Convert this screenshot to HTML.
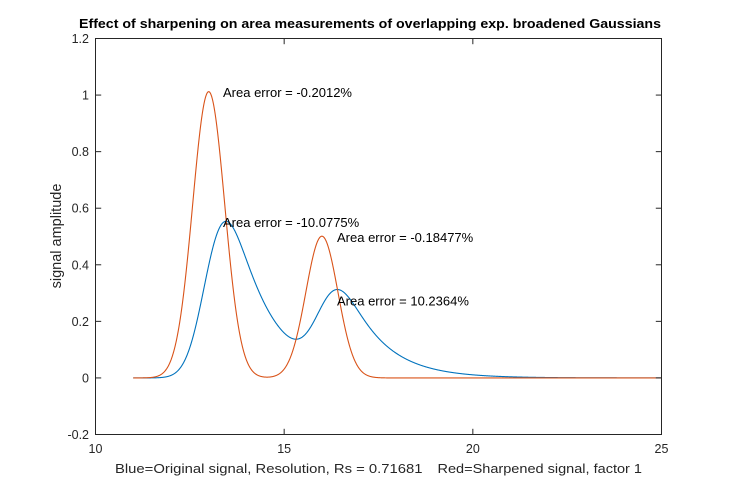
<!DOCTYPE html>
<html>
<head>
<meta charset="utf-8">
<style>
html,body{margin:0;padding:0;background:#fff;}
svg{display:block;}
text{font-family:"Liberation Sans", Arial, sans-serif;}
.tk{font-size:12.5px;fill:#262626;}
.an{font-size:13px;fill:#000;}
</style>
</head>
<body>
<svg id="s" width="731" height="489" viewBox="0 0 731 489" xmlns="http://www.w3.org/2000/svg">
<rect width="731" height="489" fill="#fff"/>
<path id="blue" fill="none" stroke="#0072BD" stroke-width="1.1" stroke-linejoin="round"/>
<path id="red" fill="none" stroke="#D95319" stroke-width="1.1" stroke-linejoin="round"/>
<g id="axes" stroke="#262626" stroke-width="1" fill="none">
  <rect x="95.5" y="38.5" width="566" height="396"/>
</g>
<g id="ticks" stroke="#262626" stroke-width="1"></g>
<g id="labels"></g>

<text x="79" y="28" font-size="12.5" font-weight="bold" fill="#000" textLength="582" lengthAdjust="spacingAndGlyphs">Effect of sharpening on area measurements of overlapping exp. broadened Gaussians</text>

<text class="an" x="223" y="97">Area error = -0.2012%</text>
<text class="an" x="223" y="227">Area error = -10.0775%</text>
<text class="an" x="337" y="242">Area error = -0.18477%</text>
<text class="an" x="337" y="305.5">Area error = 10.2364%</text>

<text x="115" y="473" font-size="13" fill="#262626" textLength="307.5" lengthAdjust="spacingAndGlyphs">Blue=Original signal, Resolution, Rs = 0.71681</text>
<text x="437.5" y="473" font-size="13" fill="#262626" textLength="204.5" lengthAdjust="spacingAndGlyphs">Red=Sharpened signal, factor 1</text>

<text transform="translate(61,236) rotate(-90)" text-anchor="middle" font-size="14.5" fill="#262626">signal amplitude</text>
</svg>
<script>
(function(){
  var NS="http://www.w3.org/2000/svg";
  function X(x){return 95.5+(x-10)*(566/15);}
  function Y(y){return 434.5-(y+0.2)*(396/1.4);}
  var ticks=document.getElementById('ticks');
  var labels=document.getElementById('labels');
  function line(x1,y1,x2,y2){var l=document.createElementNS(NS,'line');l.setAttribute('x1',x1);l.setAttribute('y1',y1);l.setAttribute('x2',x2);l.setAttribute('y2',y2);ticks.appendChild(l);}
  function txt(x,y,s,anchor){var t=document.createElementNS(NS,'text');t.setAttribute('x',x);t.setAttribute('y',y);t.setAttribute('class','tk');t.setAttribute('text-anchor',anchor);t.textContent=s;labels.appendChild(t);}
  var xt=[10,15,20,25];
  for(var i=0;i<xt.length;i++){
    var px=X(xt[i]);
    line(px,434.5,px,428.8);
    line(px,38.5,px,44.2);
    txt(px,453,String(xt[i]),'middle');
  }
  var yt=[-0.2,0,0.2,0.4,0.6,0.8,1,1.2];
  var yl=['-0.2','0','0.2','0.4','0.6','0.8','1','1.2'];
  for(var j=0;j<yt.length;j++){
    var py=Y(yt[j]);
    line(95.5,py,101.2,py);
    line(661.5,py,655.8,py);
    txt(89,py+4.5,yl[j],'end');
  }
  var s=0.4247, tau=0.98, dx=0.005, a=Math.exp(-dx/tau);
  var b='', r='', yb=0;
  var n=Math.round(14/dx);
  for(var k=0;k<=n;k++){
    var x=11+k*dx;
    var g1=Math.exp(-(x-13)*(x-13)/(2*s*s));
    var g2=Math.exp(-(x-16)*(x-16)/(2*s*s));
    var g=g1+0.5*g2;
    yb = (k===0)? g : a*yb+(1-a)*g;
    var yr=1.012*g1+0.501*g2;
    var px=X(x).toFixed(2);
    b+=(k===0?'M':'L')+px+','+Y(yb).toFixed(2);
    r+=(k===0?'M':'L')+px+','+Y(yr).toFixed(2);
  }
  document.getElementById('blue').setAttribute('d',b);
  document.getElementById('red').setAttribute('d',r);
})();
</script>
</body>
</html>
